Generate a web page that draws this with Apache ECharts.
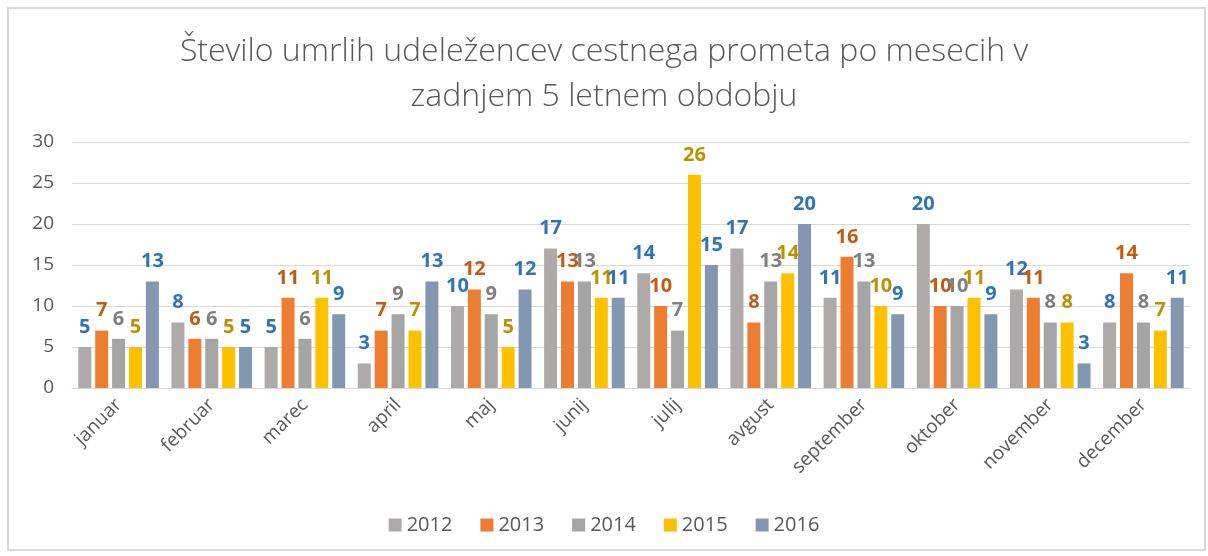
<!DOCTYPE html>
<html>
<head>
<meta charset="UTF-8">
<script src="https://cdn.jsdelivr.net/npm/echarts@6/dist/echarts.min.js"></script>
<style>
body { margin: 0; background: #fff; }
#main { width: 1208px; height: 556px; }
</style>
<title>Umrli po mesecih</title>
</head>
<body>
<div id="main"></div>
<script type="text/javascript">
var months = ['januar', 'februar', 'marec', 'april', 'maj', 'junij', 'julij', 'avgust', 'september', 'oktober', 'november', 'december'];
var years = ['2012', '2013', '2014', '2015', '2016'];
var v2012 = [5, 8, 5, 3, 10, 17, 14, 17, 11, 20, 12, 8];
var v2013 = [7, 6, 11, 7, 12, 13, 10, 8, 16, 10, 11, 14];
var v2014 = [6, 6, 6, 9, 9, 13, 7, 13, 13, 10, 8, 8];
var v2015 = [5, 5, 11, 7, 5, 11, 26, 14, 10, 11, 8, 7];
var v2016 = [13, 5, 9, 13, 12, 11, 15, 20, 9, 9, 3, 11];

var values = [v2012, v2013, v2014, v2015, v2016];
var barColors = ['#AEAAAA', '#ED7D31', '#A5A5A5', '#FFC000', '#8497B0'];
var labelColors = ['#2E75B6', '#C55A11', '#7F7F7F', '#BF9000', '#2E75B6'];

var series = [];
for (var i = 0; i < years.length; i++) {
    series.push({
        name: years[i],
        type: 'bar',
        data: values[i],
        barWidth: 13,
        barGap: '30%',
        barCategoryGap: '15%',
        itemStyle: { color: barColors[i] },
        label: {
            show: true,
            position: 'top',
            distance: 10,
            color: labelColors[i],
            fontSize: 20,
            fontWeight: 'bold',
            fontFamily: 'Open Sans'
        }
    });
}

var myChart = echarts.init(document.getElementById('main'));
var option = {
    animation: false,
    title: {
        text: 'Število umrlih udeležencev cestnega prometa po mesecih v\nzadnjem 5 letnem obdobju',
        left: 'center',
        top: 24,
        textStyle: {
            fontFamily: 'Open Sans',
            fontWeight: 300,
            fontSize: 32,
            lineHeight: 45,
            color: '#595959'
        }
    },
    graphic: [{
        type: 'rect',
        shape: { x: 8, y: 8, width: 1197, height: 542 },
        style: { fill: 'none', stroke: '#D9D9D9', lineWidth: 2 },
        silent: true
    }],
    legend: {
        data: years,
        bottom: 16,
        left: 'center',
        icon: 'rect',
        itemWidth: 13,
        itemHeight: 13,
        itemGap: 28,
        textStyle: { fontSize: 20, color: '#595959', fontFamily: 'Open Sans' }
    },
    grid: { left: 72, right: 18, top: 142, bottom: 168 },
    xAxis: {
        type: 'category',
        data: months,
        axisLine: { lineStyle: { color: '#D9D9D9' } },
        axisTick: { show: false },
        axisLabel: {
            interval: 0,
            rotate: 45,
            margin: 14,
            fontSize: 19,
            color: '#595959',
            fontFamily: 'Open Sans'
        }
    },
    yAxis: {
        type: 'value',
        min: 0,
        max: 30,
        interval: 5,
        axisLine: { show: false },
        axisTick: { show: false },
        splitLine: { lineStyle: { color: '#D9D9D9' } },
        axisLabel: { fontSize: 19, color: '#595959', margin: 18, fontFamily: 'Open Sans' }
    },
    series: series
};
myChart.setOption(option);
</script>
</body>
</html>
